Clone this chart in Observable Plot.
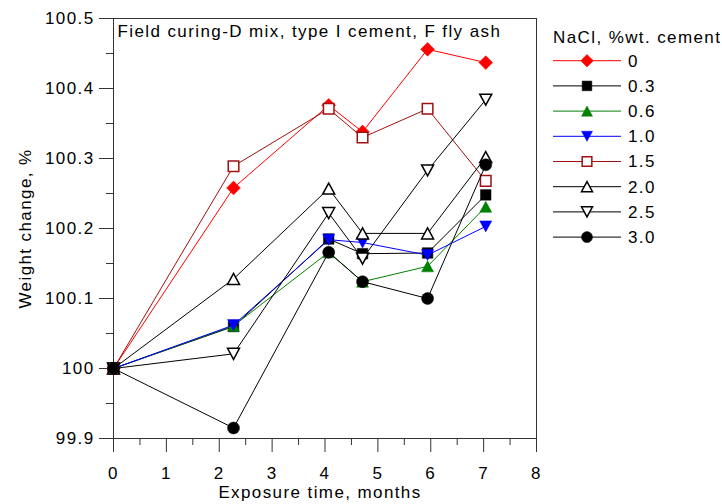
<!DOCTYPE html>
<html><head><meta charset="utf-8">
<script src="https://cdn.jsdelivr.net/npm/d3@7"></script>
<script src="https://cdn.jsdelivr.net/npm/@observablehq/plot@0.6"></script>
<style>
body{margin:0;background:#fff}
#chart{width:722px;height:504px}
</style>
</head><body><div id="chart"></div>
<script>
// ---- data ----
const months = [0, 2.27, 4.07, 4.71, 5.94, 7.04];
const seriesNames = ["0", "0.3", "0.6", "1.0", "1.5", "2.0", "2.5", "3.0"];
const nacl00 = [100, 100.258, 100.376, 100.338, 100.456, 100.437];
const nacl03 = [100, 100.060, 100.185, 100.164, 100.165, 100.248];
const nacl06 = [100, 100.061, 100.166, 100.124, 100.146, 100.231];
const nacl10 = [100, 100.062, 100.184, 100.180, 100.162, 100.203];
const nacl15 = [100, 100.289, 100.371, 100.330, 100.371, 100.268];
const nacl20 = [100, 100.128, 100.257, 100.193, 100.193, 100.302];
const nacl25 = [100, 100.021, 100.222, 100.157, 100.283, 100.384];
const nacl30 = [100, 99.915, 100.166, 100.124, 100.100, 100.291];
const seriesValues = [nacl00, nacl03, nacl06, nacl10, nacl15, nacl20, nacl25, nacl30];
const xTicks = [0, 1, 2, 3, 4, 5, 6, 7, 8];
const xMinorTicks = [0.5, 1.5, 2.5, 3.5, 4.5, 5.5, 6.5, 7.5];
const yTicks = [99.9, 100, 100.1, 100.2, 100.3, 100.4, 100.5];
const yTickLabels = ["99.9", "100", "100.1", "100.2", "100.3", "100.4", "100.5"];
const yMinorTicks = [99.95, 100.05, 100.15, 100.25, 100.35, 100.45];
const titleText = "Field curing-D mix, type I cement, F fly ash";
const legendTitle = "NaCl, %wt. cement";
const xLabel = "Exposure time, months";
const yLabel = "Weight change, %";

// ---- styles ----
const strokes = ["#ff0000", "#000000", "#008000", "#0000ff", "#a01010", "#000000", "#000000", "#000000"];
const fills = ["#ff0000", "#000000", "#008000", "#0000ff", "#ffffff", "#ffffff", "#ffffff", "#000000"];
const shapes = ["diamond", "square", "triangle", "triangleDown", "square", "triangle", "triangleDown", "circle"];
const openMarker = [false, false, false, false, true, true, true, false];

function sym(fn) { return {draw(ctx, size) { fn(ctx, Math.sqrt(size / Math.PI)); }}; }
const symbols = {
  diamond: sym((c, r) => { const a = r * 1.15; c.moveTo(0, -a); c.lineTo(a, 0); c.lineTo(0, a); c.lineTo(-a, 0); c.closePath(); }),
  square: sym((c, r) => { const a = r * 0.88; c.moveTo(-a, -a); c.lineTo(a, -a); c.lineTo(a, a); c.lineTo(-a, a); c.closePath(); }),
  triangle: sym((c, r) => { const w = r, h = r * 0.92; c.moveTo(0, -h); c.lineTo(w, h); c.lineTo(-w, h); c.closePath(); }),
  triangleDown: sym((c, r) => { const w = r, h = r * 0.92; c.moveTo(0, h); c.lineTo(w, -h); c.lineTo(-w, -h); c.closePath(); }),
  circle: sym((c, r) => { c.moveTo(r, 0); c.arc(0, 0, r, 0, 2 * Math.PI); })
};

const rows = seriesNames.map((name, i) => months.map((m, j) => ({series: name, month: m, value: seriesValues[i][j]})));

const seriesMarks = rows.flatMap((data, i) => [
  Plot.line(data, {x: "month", y: "value", stroke: strokes[i], strokeWidth: 1}),
  Plot.dot(data, {x: "month", y: "value", r: 6, symbol: symbols[shapes[i]], fill: fills[i], stroke: strokes[i], strokeWidth: openMarker[i] ? 1.5 : 0.5})
]);

const font = "'Liberation Sans', Arial, sans-serif";
const axisColor = "#333";
const spacing = "1.4px";

const chart = Plot.plot({
  width: 722, height: 504,
  marginLeft: 113, marginRight: 186, marginTop: 18, marginBottom: 66,
  style: {fontFamily: font, fontSize: "17px", letterSpacing: spacing, background: "#fff", color: "#000"},
  x: {domain: [0, 8], axis: null},
  y: {domain: [99.9, 100.5], axis: null},
  marks: [
    Plot.axisX({ticks: xMinorTicks, tickSize: 7, text: null, stroke: axisColor, label: null}),
    Plot.axisX({ticks: xTicks, tickSize: 14, tickPadding: 14, stroke: axisColor, label: null, fontSize: 17, tickFormat: d => String(d)}),
    Plot.axisY({ticks: yMinorTicks, tickSize: 7, text: null, stroke: axisColor, label: null}),
    Plot.axisY({ticks: yTicks, tickSize: 14, tickPadding: 5, stroke: axisColor, label: null, fontSize: 17, tickFormat: d => yTickLabels[yTicks.indexOf(d)]}),
    Plot.frame({stroke: axisColor}),
    ...seriesMarks,
    Plot.text([titleText], {frameAnchor: "top-left", textAnchor: "start", lineAnchor: "top", dx: 4, dy: 6, fontSize: 17}),
    Plot.text([xLabel], {frameAnchor: "bottom", textAnchor: "middle", lineAnchor: "middle", dy: 54, dx: -5, fontSize: 17}),
    Plot.text([yLabel], {frameAnchor: "left", textAnchor: "middle", lineAnchor: "middle", rotate: -90, dx: -88, dy: 0, fontSize: 17})
  ]
});

document.getElementById("chart").appendChild(chart);

// ---- legend (drawn into the same SVG) ----
const svg = d3.select(chart);
const lg = svg.append("g").attr("font-family", font).attr("font-size", 17).attr("text-anchor", "start").style("letter-spacing", spacing);
const lx0 = 553, lx1 = 621, lmx = 587, ltx = 628, ly0 = 60.7, ldy = 25.2;
lg.append("text").attr("x", lx0).attr("y", 43).text(legendTitle);
seriesNames.forEach((name, i) => {
  const yy = ly0 + i * ldy;
  lg.append("line").attr("x1", lx0).attr("x2", lx1).attr("y1", yy).attr("y2", yy).attr("stroke", strokes[i]).attr("stroke-width", 1);
  lg.append("path").attr("transform", `translate(${lmx},${yy})`)
    .attr("d", d3.symbol(symbols[shapes[i]], Math.PI * 5.5 * 5.5)())
    .attr("fill", fills[i]).attr("stroke", strokes[i]).attr("stroke-width", openMarker[i] ? 1.5 : 0.5);
  lg.append("text").attr("x", ltx).attr("y", yy).attr("dy", "0.35em").text(name);
});
</script>
</body></html>
